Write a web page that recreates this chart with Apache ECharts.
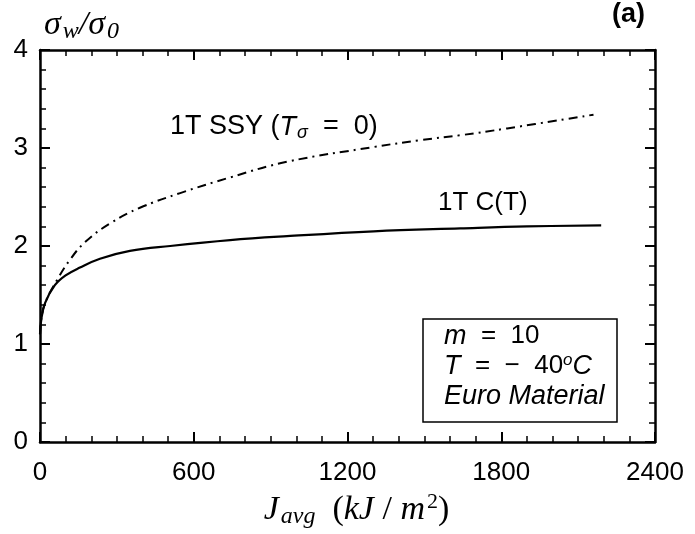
<!DOCTYPE html>
<html>
<head>
<meta charset="utf-8">
<script src="https://cdn.jsdelivr.net/npm/echarts@6/dist/echarts.min.js"></script>
<style>
  html, body { margin: 0; padding: 0; background: #fff; }
  #chart { width: 695px; height: 534px; }
</style>
</head>
<body>
<div id="chart"></div>
<script>
// J_avg (kJ/m^2) and sigma_w/sigma_0 for the 1T C(T) specimen
const ctJ = [0, 5, 20, 58, 100, 156, 234, 351, 508, 742, 964, 1302, 1640, 1900, 2190];
const ctSigma = [1.10, 1.25, 1.42, 1.60, 1.70, 1.78, 1.87, 1.95, 2.00, 2.06, 2.10, 2.15, 2.18, 2.20, 2.21];

// Small-scale yielding reference (T_sigma = 0)
const ssyJ = [0, 5, 20, 66, 117, 176, 273, 390, 547, 742, 964, 1302, 1484, 1640, 1823, 2160];
const ssySigma = [1.10, 1.25, 1.42, 1.65, 1.86, 2.04, 2.23, 2.39, 2.54, 2.70, 2.86, 3.01, 3.08, 3.13, 3.20, 3.34];

// Axis ranges and tick steps
const xTicks = [0, 600, 1200, 1800, 2400];
const yTicks = [0, 1, 2, 3, 4];

const pair = (xs, ys) => xs.map((x, i) => [x, ys[i]]);

const sans = '"Liberation Sans", Arial, Helvetica, sans-serif';
const serif = '"Liberation Serif", "DejaVu Serif", serif';

const frameLine = { show: true, onZero: false, lineStyle: { color: '#000', width: 2.5 } };
const tickStyle = { show: true, inside: true, length: 10, lineStyle: { color: '#000', width: 2 } };

function xAxisDef(pos, showLabels) {
  return {
    type: 'value', position: pos,
    min: xTicks[0], max: xTicks[xTicks.length - 1], interval: 600,
    axisLine: frameLine,
    axisTick: tickStyle,
    minorTick: { show: true, splitNumber: 6, length: 6, lineStyle: { color: '#000', width: 1.5 } },
    splitLine: { show: false },
    axisLabel: {
      show: showLabels, color: '#000', fontFamily: sans, fontSize: 26, margin: 18,
      formatter: v => String(v),
    },
  };
}
function yAxisDef(pos, showLabels) {
  return {
    type: 'value', position: pos,
    min: yTicks[0], max: yTicks[yTicks.length - 1], interval: 1,
    axisLine: frameLine,
    axisTick: tickStyle,
    minorTick: { show: true, splitNumber: 5, length: 6, lineStyle: { color: '#000', width: 1.5 } },
    splitLine: { show: false },
    axisLabel: { show: showLabels, color: '#000', fontFamily: sans, fontSize: 26, margin: 12 },
  };
}

const xMain = xAxisDef('bottom', true);
xMain.name = '{j|J}{sub|avg}{t|  (}{j|kJ}{t| / }{j|m}{sup|2}{t|)}';
xMain.nameLocation = 'middle';
xMain.nameGap = 46;
xMain.nameTextStyle = {
  padding: [0, 0, 0, 18],
  rich: {
    j: { fontFamily: serif, fontStyle: 'italic', fontSize: 34, color: '#000', lineHeight: 38 },
    t: { fontFamily: serif, fontSize: 34, color: '#000', lineHeight: 38 },
    sub: { fontFamily: serif, fontStyle: 'italic', fontSize: 24, color: '#000', lineHeight: 38, padding: [14, 0, 0, 2] },
    sup: { fontFamily: serif, fontSize: 22, color: '#000', lineHeight: 38, padding: [0, 0, 16, 2] },
  }
};

const yMain = yAxisDef('left', true);
yMain.name = '{a|σ}{s|w}{a|/σ}{s|0}';
yMain.nameLocation = 'end';
yMain.nameGap = 6;
yMain.nameTextStyle = {
  align: 'left',
  padding: [0, 0, 0, 4],
  rich: {
    a: { fontFamily: serif, fontStyle: 'italic', fontSize: 34, color: '#000', lineHeight: 38 },
    s: { fontFamily: serif, fontStyle: 'italic', fontSize: 24, color: '#000', lineHeight: 38, padding: [14, 0, 0, 2] },
  }
};

const option = {
  animation: false,
  backgroundColor: '#fff',
  grid: { left: 40, right: 40, top: 50, bottom: 92, outerBoundsMode: 'none', containLabel: false },
  xAxis: [xMain, xAxisDef('top', false)],
  yAxis: [yMain, yAxisDef('right', false)],
  series: [
    {
      name: '1T C(T)', type: 'line', xAxisIndex: 0, yAxisIndex: 0,
      data: pair(ctJ, ctSigma), smooth: 0.4, showSymbol: false,
      lineStyle: { color: '#000', width: 2.2 },
    },
    {
      name: '1T SSY', type: 'line', xAxisIndex: 0, yAxisIndex: 0,
      data: pair(ssyJ, ssySigma), smooth: 0.4, showSymbol: false,
      lineStyle: { color: '#000', width: 2, type: [9, 5, 2, 5] },
    },
  ],
  graphic: [
    {
      type: 'text', left: 170, top: 112,
      style: {
        text: '{n|1T SSY (}{i|T}{s|σ}{n|  =  0)}',
        rich: {
          n: { fontFamily: sans, fontSize: 27, fill: '#000', lineHeight: 32 },
          i: { fontFamily: sans, fontStyle: 'italic', fontSize: 27, fill: '#000', lineHeight: 32 },
          s: { fontFamily: sans, fontStyle: 'italic', fontSize: 18, fill: '#000', lineHeight: 32, padding: [12, 0, 0, 1] },
        }
      }
    },
    {
      type: 'text', left: 438, top: 190,
      style: { text: '1T C(T)', fontFamily: sans, fontSize: 26, fill: '#000' }
    },
    {
      type: 'text', left: 612, top: 1,
      style: { text: '(a)', fontFamily: sans, fontWeight: 'bold', fontSize: 27, fill: '#000' }
    },
    {
      type: 'rect', shape: { x: 423, y: 319, width: 194, height: 103 },
      style: { fill: '#fff', stroke: '#000', lineWidth: 1.5 }
    },
    {
      type: 'text', left: 444, top: 321,
      style: {
        text: '{i|m}  =  10\n{i|T}  =  −  40{sp|o}{i|C}\n{i|Euro Material}',
        fontFamily: sans, fontSize: 26, fill: '#000', lineHeight: 30,
        rich: {
          i: { fontFamily: sans, fontStyle: 'italic', fontSize: 27, fill: '#000', lineHeight: 30 },
          sp: { fontFamily: sans, fontStyle: 'italic', fontSize: 17, fill: '#000', lineHeight: 30, padding: [0, 0, 12, 0] },
        }
      }
    },
  ],
};

const chart = echarts.init(document.getElementById('chart'), null, { renderer: 'canvas' });
chart.setOption(option);
</script>
</body>
</html>
